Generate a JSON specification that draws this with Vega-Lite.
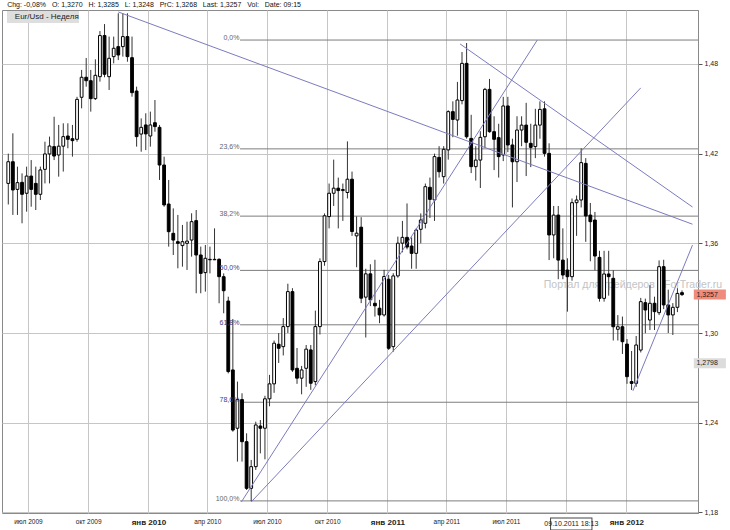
{
  "$schema": "https://vega.github.io/schema/vega-lite/v6.json",
  "width": 696,
  "height": 503,
  "autosize": {"type": "none"},
  "padding": {"left": 2, "top": 10, "right": 32, "bottom": 17},
  "background": "white",
  "config": {
    "view": {"stroke": "#8a8a8a", "strokeWidth": 1},
    "font": "Liberation Sans"
  },
  "datasets": {
    "candles": [
      {"d":"2009-06-01","o":1.4001,"h":1.4200,"l":1.3860,"c":1.4146},
      {"d":"2009-06-08","o":1.4146,"h":1.4336,"l":1.3790,"c":1.3957},
      {"d":"2009-06-15","o":1.3961,"h":1.4113,"l":1.3790,"c":1.4006},
      {"d":"2009-06-22","o":1.4008,"h":1.4068,"l":1.3734,"c":1.3928},
      {"d":"2009-06-29","o":1.3935,"h":1.4113,"l":1.3812,"c":1.4050},
      {"d":"2009-07-06","o":1.4050,"h":1.4157,"l":1.3845,"c":1.3961},
      {"d":"2009-07-13","o":1.4001,"h":1.4113,"l":1.3823,"c":1.3928},
      {"d":"2009-07-20","o":1.3928,"h":1.4113,"l":1.3890,"c":1.4091},
      {"d":"2009-07-27","o":1.4095,"h":1.4280,"l":1.4001,"c":1.4198},
      {"d":"2009-08-03","o":1.4198,"h":1.4314,"l":1.4001,"c":1.4251},
      {"d":"2009-08-10","o":1.4247,"h":1.4447,"l":1.4157,"c":1.4184},
      {"d":"2009-08-17","o":1.4191,"h":1.4392,"l":1.4046,"c":1.4250},
      {"d":"2009-08-24","o":1.4250,"h":1.4403,"l":1.4080,"c":1.4314},
      {"d":"2009-08-31","o":1.4318,"h":1.4403,"l":1.4236,"c":1.4296},
      {"d":"2009-09-07","o":1.4300,"h":1.4392,"l":1.4180,"c":1.4287},
      {"d":"2009-09-14","o":1.4296,"h":1.4580,"l":1.4280,"c":1.4563},
      {"d":"2009-09-21","o":1.4577,"h":1.4760,"l":1.4503,"c":1.4711},
      {"d":"2009-09-28","o":1.4711,"h":1.4840,"l":1.4648,"c":1.4688},
      {"d":"2009-10-05","o":1.4688,"h":1.4760,"l":1.4481,"c":1.4568},
      {"d":"2009-10-12","o":1.4568,"h":1.4831,"l":1.4559,"c":1.4724},
      {"d":"2009-10-19","o":1.4715,"h":1.5020,"l":1.4682,"c":1.4990},
      {"d":"2009-10-26","o":1.4990,"h":1.5067,"l":1.4711,"c":1.4731},
      {"d":"2009-11-02","o":1.4715,"h":1.4983,"l":1.4626,"c":1.4838},
      {"d":"2009-11-09","o":1.4849,"h":1.4983,"l":1.4804,"c":1.4905},
      {"d":"2009-11-16","o":1.4916,"h":1.5139,"l":1.4826,"c":1.4860},
      {"d":"2009-11-23","o":1.4916,"h":1.5139,"l":1.4849,"c":1.4983},
      {"d":"2009-11-30","o":1.4983,"h":1.5139,"l":1.4815,"c":1.4849},
      {"d":"2009-12-07","o":1.4842,"h":1.4983,"l":1.4581,"c":1.4608},
      {"d":"2009-12-14","o":1.4619,"h":1.4648,"l":1.4247,"c":1.4314},
      {"d":"2009-12-21","o":1.4331,"h":1.4436,"l":1.4213,"c":1.4376},
      {"d":"2009-12-28","o":1.4392,"h":1.4470,"l":1.4224,"c":1.4332},
      {"d":"2010-01-04","o":1.4318,"h":1.4481,"l":1.4247,"c":1.4392},
      {"d":"2010-01-11","o":1.4407,"h":1.4559,"l":1.4347,"c":1.4381},
      {"d":"2010-01-18","o":1.4376,"h":1.4392,"l":1.4024,"c":1.4124},
      {"d":"2010-01-25","o":1.4124,"h":1.4180,"l":1.3845,"c":1.3857},
      {"d":"2010-02-01","o":1.3863,"h":1.4024,"l":1.3578,"c":1.3678},
      {"d":"2010-02-08","o":1.3667,"h":1.3834,"l":1.3522,"c":1.3622},
      {"d":"2010-02-15","o":1.3611,"h":1.3790,"l":1.3433,"c":1.3600},
      {"d":"2010-02-22","o":1.3585,"h":1.3723,"l":1.3444,"c":1.3611},
      {"d":"2010-03-01","o":1.3600,"h":1.3745,"l":1.3422,"c":1.3615},
      {"d":"2010-03-08","o":1.3622,"h":1.3801,"l":1.3511,"c":1.3745},
      {"d":"2010-03-15","o":1.3752,"h":1.3823,"l":1.3266,"c":1.3522},
      {"d":"2010-03-22","o":1.3522,"h":1.3578,"l":1.3266,"c":1.3399},
      {"d":"2010-03-29","o":1.3404,"h":1.3589,"l":1.3277,"c":1.3500},
      {"d":"2010-04-05","o":1.3493,"h":1.3578,"l":1.3399,"c":1.3490},
      {"d":"2010-04-12","o":1.3490,"h":1.3700,"l":1.3488,"c":1.3493},
      {"d":"2010-04-19","o":1.3493,"h":1.3500,"l":1.3199,"c":1.3377},
      {"d":"2010-04-26","o":1.3377,"h":1.3399,"l":1.3132,"c":1.3283},
      {"d":"2010-05-03","o":1.3214,"h":1.3243,"l":1.2730,"c":1.2742},
      {"d":"2010-05-10","o":1.2753,"h":1.3094,"l":1.2340,"c":1.2351},
      {"d":"2010-05-17","o":1.2363,"h":1.2675,"l":1.2140,"c":1.2555},
      {"d":"2010-05-24","o":1.2555,"h":1.2597,"l":1.2140,"c":1.2273},
      {"d":"2010-05-31","o":1.2273,"h":1.2329,"l":1.1950,"c":1.1961},
      {"d":"2010-06-07","o":1.1961,"h":1.2151,"l":1.1876,"c":1.2106},
      {"d":"2010-06-14","o":1.2106,"h":1.2407,"l":1.2084,"c":1.2385},
      {"d":"2010-06-21","o":1.2378,"h":1.2418,"l":1.2195,"c":1.2363},
      {"d":"2010-06-28","o":1.2363,"h":1.2580,"l":1.2155,"c":1.2560},
      {"d":"2010-07-05","o":1.2560,"h":1.2720,"l":1.2510,"c":1.2660},
      {"d":"2010-07-12","o":1.2660,"h":1.2950,"l":1.2600,"c":1.2932},
      {"d":"2010-07-19","o":1.2925,"h":1.3000,"l":1.2800,"c":1.2898},
      {"d":"2010-07-26","o":1.2909,"h":1.3100,"l":1.2850,"c":1.3043},
      {"d":"2010-08-02","o":1.3043,"h":1.3330,"l":1.3000,"c":1.3277},
      {"d":"2010-08-09","o":1.3277,"h":1.3300,"l":1.2740,"c":1.2753},
      {"d":"2010-08-16","o":1.2764,"h":1.2900,"l":1.2660,"c":1.2698},
      {"d":"2010-08-23","o":1.2698,"h":1.2780,"l":1.2590,"c":1.2753},
      {"d":"2010-08-30","o":1.2764,"h":1.2920,"l":1.2640,"c":1.2892},
      {"d":"2010-09-06","o":1.2887,"h":1.2920,"l":1.2620,"c":1.2664},
      {"d":"2010-09-13","o":1.2675,"h":1.3150,"l":1.2650,"c":1.3043},
      {"d":"2010-09-20","o":1.3043,"h":1.3500,"l":1.2990,"c":1.3478},
      {"d":"2010-09-27","o":1.3478,"h":1.3800,"l":1.3450,"c":1.3784},
      {"d":"2010-10-04","o":1.3779,"h":1.4000,"l":1.3700,"c":1.3935},
      {"d":"2010-10-11","o":1.3935,"h":1.4160,"l":1.3850,"c":1.3969},
      {"d":"2010-10-18","o":1.3969,"h":1.4040,"l":1.3700,"c":1.3953},
      {"d":"2010-10-25","o":1.3953,"h":1.4000,"l":1.3750,"c":1.3960},
      {"d":"2010-11-01","o":1.3940,"h":1.4282,"l":1.3900,"c":1.4029},
      {"d":"2010-11-08","o":1.4029,"h":1.4080,"l":1.3650,"c":1.3679},
      {"d":"2010-11-15","o":1.3650,"h":1.3780,"l":1.3440,"c":1.3668},
      {"d":"2010-11-22","o":1.3708,"h":1.3775,"l":1.3200,"c":1.3233},
      {"d":"2010-11-29","o":1.3240,"h":1.3430,"l":1.2970,"c":1.3396},
      {"d":"2010-12-06","o":1.3396,"h":1.3460,"l":1.3180,"c":1.3222},
      {"d":"2010-12-13","o":1.3199,"h":1.3490,"l":1.3110,"c":1.3182},
      {"d":"2010-12-20","o":1.3166,"h":1.3222,"l":1.3066,"c":1.3121},
      {"d":"2010-12-27","o":1.3121,"h":1.3423,"l":1.3110,"c":1.3378},
      {"d":"2011-01-03","o":1.3360,"h":1.3389,"l":1.2887,"c":1.2898},
      {"d":"2011-01-10","o":1.2909,"h":1.3400,"l":1.2875,"c":1.3382},
      {"d":"2011-01-17","o":1.3382,"h":1.3645,"l":1.3370,"c":1.3601},
      {"d":"2011-01-24","o":1.3601,"h":1.3750,"l":1.3540,"c":1.3640},
      {"d":"2011-01-31","o":1.3640,"h":1.3867,"l":1.3560,"c":1.3575},
      {"d":"2011-02-07","o":1.3582,"h":1.3640,"l":1.3430,"c":1.3533},
      {"d":"2011-02-14","o":1.3533,"h":1.3700,"l":1.3430,"c":1.3689},
      {"d":"2011-02-21","o":1.3694,"h":1.3800,"l":1.3600,"c":1.3756},
      {"d":"2011-02-28","o":1.3734,"h":1.4000,"l":1.3700,"c":1.3979},
      {"d":"2011-03-07","o":1.3975,"h":1.4040,"l":1.3770,"c":1.3894},
      {"d":"2011-03-14","o":1.3890,"h":1.4200,"l":1.3750,"c":1.4180},
      {"d":"2011-03-21","o":1.4175,"h":1.4250,"l":1.4040,"c":1.4079},
      {"d":"2011-03-28","o":1.4046,"h":1.4250,"l":1.4000,"c":1.4229},
      {"d":"2011-04-04","o":1.4225,"h":1.4490,"l":1.4160,"c":1.4481},
      {"d":"2011-04-11","o":1.4481,"h":1.4550,"l":1.4310,"c":1.4429},
      {"d":"2011-04-18","o":1.4425,"h":1.4680,"l":1.4320,"c":1.4559},
      {"d":"2011-04-25","o":1.4555,"h":1.4880,"l":1.4530,"c":1.4804},
      {"d":"2011-05-02","o":1.4804,"h":1.4940,"l":1.4300,"c":1.4313},
      {"d":"2011-05-09","o":1.4302,"h":1.4460,"l":1.4070,"c":1.4113},
      {"d":"2011-05-16","o":1.4113,"h":1.4250,"l":1.4020,"c":1.4157},
      {"d":"2011-05-23","o":1.4157,"h":1.4350,"l":1.3970,"c":1.4309},
      {"d":"2011-05-30","o":1.4313,"h":1.4640,"l":1.4240,"c":1.4630},
      {"d":"2011-06-06","o":1.4630,"h":1.4700,"l":1.4340,"c":1.4347},
      {"d":"2011-06-13","o":1.4347,"h":1.4450,"l":1.4090,"c":1.4296},
      {"d":"2011-06-20","o":1.4307,"h":1.4400,"l":1.4040,"c":1.4180},
      {"d":"2011-06-27","o":1.4191,"h":1.4580,"l":1.4150,"c":1.4519},
      {"d":"2011-07-04","o":1.4519,"h":1.4580,"l":1.4210,"c":1.4258},
      {"d":"2011-07-11","o":1.4258,"h":1.4300,"l":1.3840,"c":1.4146},
      {"d":"2011-07-18","o":1.4146,"h":1.4450,"l":1.4010,"c":1.4358},
      {"d":"2011-07-25","o":1.4358,"h":1.4450,"l":1.4250,"c":1.4391},
      {"d":"2011-08-01","o":1.4391,"h":1.4540,"l":1.4050,"c":1.4276},
      {"d":"2011-08-08","o":1.4269,"h":1.4400,"l":1.4110,"c":1.4242},
      {"d":"2011-08-15","o":1.4247,"h":1.4500,"l":1.4170,"c":1.4391},
      {"d":"2011-08-22","o":1.4391,"h":1.4550,"l":1.4300,"c":1.4496},
      {"d":"2011-08-29","o":1.4500,"h":1.4550,"l":1.4180,"c":1.4202},
      {"d":"2011-09-05","o":1.4202,"h":1.4269,"l":1.3488,"c":1.3656},
      {"d":"2011-09-12","o":1.3656,"h":1.3850,"l":1.3500,"c":1.3789},
      {"d":"2011-09-19","o":1.3789,"h":1.3850,"l":1.3360,"c":1.3488},
      {"d":"2011-09-26","o":1.3488,"h":1.3700,"l":1.3360,"c":1.3388},
      {"d":"2011-10-03","o":1.3421,"h":1.3500,"l":1.3143,"c":1.3377},
      {"d":"2011-10-10","o":1.3377,"h":1.3900,"l":1.3350,"c":1.3872},
      {"d":"2011-10-17","o":1.3872,"h":1.3920,"l":1.3650,"c":1.3890},
      {"d":"2011-10-24","o":1.3890,"h":1.4235,"l":1.3840,"c":1.4140},
      {"d":"2011-10-31","o":1.4135,"h":1.4170,"l":1.3610,"c":1.3783},
      {"d":"2011-11-07","o":1.3789,"h":1.3870,"l":1.3480,"c":1.3745},
      {"d":"2011-11-14","o":1.3756,"h":1.3810,"l":1.3420,"c":1.3515},
      {"d":"2011-11-21","o":1.3506,"h":1.3550,"l":1.3210,"c":1.3232},
      {"d":"2011-11-28","o":1.3232,"h":1.3550,"l":1.3210,"c":1.3395},
      {"d":"2011-12-05","o":1.3395,"h":1.3550,"l":1.3250,"c":1.3377},
      {"d":"2011-12-12","o":1.3366,"h":1.3420,"l":1.2950,"c":1.3042},
      {"d":"2011-12-19","o":1.3025,"h":1.3120,"l":1.2950,"c":1.3042},
      {"d":"2011-12-26","o":1.3042,"h":1.3110,"l":1.2860,"c":1.2942},
      {"d":"2012-01-02","o":1.2926,"h":1.2960,"l":1.2660,"c":1.2708},
      {"d":"2012-01-09","o":1.2675,"h":1.2880,"l":1.2619,"c":1.2663},
      {"d":"2012-01-16","o":1.2663,"h":1.2980,"l":1.2640,"c":1.2920},
      {"d":"2012-01-23","o":1.2886,"h":1.3235,"l":1.2870,"c":1.3210},
      {"d":"2012-01-30","o":1.3203,"h":1.3230,"l":1.2998,"c":1.3154},
      {"d":"2012-02-06","o":1.3087,"h":1.3320,"l":1.3020,"c":1.3199},
      {"d":"2012-02-13","o":1.3199,"h":1.3243,"l":1.3020,"c":1.3143},
      {"d":"2012-02-20","o":1.3136,"h":1.3486,"l":1.3120,"c":1.3444},
      {"d":"2012-02-27","o":1.3444,"h":1.3490,"l":1.3160,"c":1.3188},
      {"d":"2012-03-05","o":1.3188,"h":1.3290,"l":1.3000,"c":1.3121},
      {"d":"2012-03-12","o":1.3121,"h":1.3200,"l":1.2987,"c":1.3172},
      {"d":"2012-03-19","o":1.3172,"h":1.3300,"l":1.3140,"c":1.3265},
      {"d":"2012-03-26","o":1.3270,"h":1.3285,"l":1.3248,"c":1.3257}
    ],
    "fib": [
      {"pct":"0,0%","level":1.4960},
      {"pct":"23,6%","level":1.4232},
      {"pct":"38,2%","level":1.3782},
      {"pct":"50,0%","level":1.3419},
      {"pct":"61,8%","level":1.3055},
      {"pct":"78,6%","level":1.2537},
      {"pct":"100,0%","level":1.1877}
    ],
    "trend": [
      {"d1":"2009-11-16","p1":1.5148,"d2":"2012-04-11","p2":1.3728},
      {"d1":"2011-04-22","p1":1.4934,"d2":"2012-04-11","p2":1.3843},
      {"d1":"2010-05-23","p1":1.1870,"d2":"2011-08-18","p2":1.4960},
      {"d1":"2010-06-07","p1":1.1870,"d2":"2012-01-23","p2":1.4640},
      {"d1":"2012-01-11","p1":1.2613,"d2":"2012-04-11","p2":1.3588}
    ],
    "tags": [
      {"p":1.3257,"label":"1,3257","kind":"last"},
      {"p":1.2798,"label":"1,2798","kind":"prev"}
    ]
  },
  "layer": [
    {
      "data": {"name": "candles"},
      "mark": {"type": "rule", "opacity": 0},
      "encoding": {
        "x": {
          "field": "d", "type": "temporal", "title": null,
          "scale": {"type": "utc", "domain": [{"year": 2009, "month": 5, "date": 30, "hours": 1, "utc": true}, {"year": 2012, "month": 4, "date": 11, "hours": 19, "utc": true}]},
          "axis": {
            "orient": "bottom",
            "values": [
              {"year": 2009, "month": 7, "date": 1, "utc": true},
              {"year": 2009, "month": 10, "date": 1, "utc": true},
              {"year": 2010, "month": 1, "date": 1, "utc": true},
              {"year": 2010, "month": 4, "date": 1, "utc": true},
              {"year": 2010, "month": 7, "date": 1, "utc": true},
              {"year": 2010, "month": 10, "date": 1, "utc": true},
              {"year": 2011, "month": 1, "date": 1, "utc": true},
              {"year": 2011, "month": 4, "date": 1, "utc": true},
              {"year": 2011, "month": 7, "date": 1, "utc": true},
              {"year": 2011, "month": 10, "date": 1, "utc": true},
              {"year": 2012, "month": 1, "date": 1, "utc": true}
            ],
            "labelExpr": "(utcyear(datum.value) == 2011 && utcmonth(datum.value) == 9) ? '' : (['янв','фев','мар','апр','май','июн','июл','авг','сен','окт','ноя','дек'][utcmonth(datum.value)] + ' ' + utcyear(datum.value))",
            "grid": true, "gridColor": "#c6c6c6",
            "ticks": false, "domain": false,
            "labelPadding": 5, "labelColor": "#222222",
            "labelFontSize": {"condition": {"test": "utcmonth(datum.value) == 0", "value": 8}, "value": 6.5},
            "labelFontWeight": {"condition": {"test": "utcmonth(datum.value) == 0", "value": "bold"}, "value": "normal"},
            "labelOverlap": false, "labelFlush": false
          }
        },
        "y": {
          "field": "l", "type": "quantitative", "title": null,
          "scale": {"domain": [1.1796, 1.5161], "zero": false, "nice": false},
          "axis": {
            "orient": "right",
            "values": [1.18, 1.24, 1.3, 1.36, 1.42, 1.48],
            "labelExpr": "replace(format(datum.value, '.2f'), '.', ',')",
            "grid": true, "gridColor": "#c6c6c6",
            "domain": true, "domainColor": "#8a8a8a",
            "ticks": true, "tickColor": "#555555", "tickSize": 4,
            "labelPadding": 2, "labelFontSize": 7, "labelColor": "#222222"
          }
        },
        "y2": {"field": "h"}
      }
    },
    {
      "data": {"name": "fib"},
      "mark": {"type": "rule", "color": "#7d7d7d", "strokeWidth": 1, "clip": true},
      "encoding": {
        "x": {"datum": {"year": 2010, "month": 5, "date": 21, "utc": true}, "type": "temporal", "title": null},
        "x2": {"datum": {"year": 2012, "month": 6, "date": 1, "utc": true}},
        "y": {"field": "level", "type": "quantitative", "title": null}
      }
    },
    {
      "data": {"values": [{}]},
      "mark": {"type": "text", "text": "Портал для трейдеров - ForTrader.ru", "fontSize": 10.5, "color": "#c4c4c4", "align": "center", "baseline": "middle", "clip": false},
      "encoding": {
        "x": {"datum": {"year": 2012, "month": 1, "date": 11, "utc": true}, "type": "temporal", "title": null},
        "y": {"datum": 1.3322, "type": "quantitative", "title": null}
      }
    },
    {
      "data": {"name": "candles"},
      "mark": {"type": "rule", "color": "#333333", "strokeWidth": 1, "clip": true},
      "encoding": {
        "x": {"field": "d", "type": "temporal", "title": null},
        "y": {"field": "l", "type": "quantitative", "title": null},
        "y2": {"field": "h"}
      }
    },
    {
      "data": {"name": "candles"},
      "mark": {"type": "bar", "size": 2.8, "stroke": "#000000", "strokeWidth": 1, "clip": true},
      "encoding": {
        "x": {"field": "d", "type": "temporal", "title": null},
        "y": {"field": "o", "type": "quantitative", "title": null},
        "y2": {"field": "c"},
        "fill": {"condition": {"test": "datum.c < datum.o", "value": "#000000"}, "value": "#ffffff"}
      }
    },
    {
      "data": {"name": "fib"},
      "mark": {"type": "text", "align": "right", "baseline": "middle", "dy": -2, "fontSize": 7, "clip": false},
      "encoding": {
        "x": {"datum": {"year": 2010, "month": 5, "date": 20, "utc": true}, "type": "temporal", "title": null},
        "y": {"field": "level", "type": "quantitative", "title": null},
        "text": {"field": "pct"},
        "color": {"condition": {"test": "datum.level > 1.2 && datum.level < 1.36", "value": "#3c3c88"}, "value": "#666666"}
      }
    },
    {
      "data": {"name": "trend"},
      "mark": {"type": "rule", "color": "#7b7bbf", "strokeWidth": 1, "clip": true},
      "encoding": {
        "x": {"field": "d1", "type": "temporal", "title": null},
        "x2": {"field": "d2"},
        "y": {"field": "p1", "type": "quantitative", "title": null},
        "y2": {"field": "p2"}
      }
    },
    {
      "data": {"name": "tags"},
      "mark": {"type": "rule", "strokeWidth": 10, "strokeCap": "butt", "clip": false},
      "encoding": {
        "x": {"datum": {"year": 2012, "month": 4, "date": 13, "utc": true}, "type": "temporal", "title": null},
        "x2": {"datum": {"year": 2012, "month": 6, "date": 1, "utc": true}},
        "y": {"field": "p", "type": "quantitative", "title": null},
        "color": {"condition": {"test": "datum.kind == 'last'", "value": "#f08c7c"}, "value": "#dcdcdc"}
      }
    },
    {
      "data": {"name": "tags"},
      "mark": {"type": "text", "align": "left", "baseline": "middle", "fontSize": 7, "color": "#222222", "clip": false},
      "encoding": {
        "x": {"datum": {"year": 2012, "month": 4, "date": 17, "utc": true}, "type": "temporal", "title": null},
        "y": {"field": "p", "type": "quantitative", "title": null},
        "text": {"field": "label"}
      }
    },
    {
      "data": {"values": [{}]},
      "mark": {"type": "text", "text": "Chg: -0,08%\u00a0\u00a0 O: 1,3270\u00a0\u00a0 H: 1,3285\u00a0\u00a0 L: 1,3248\u00a0\u00a0 PrC: 1,3268\u00a0\u00a0 Last: 1,3257\u00a0\u00a0 Vol:\u00a0\u00a0 Date: 09:15", "align": "left", "baseline": "middle", "fontSize": 7, "color": "#111111", "clip": false},
      "encoding": {
        "x": {"datum": {"year": 2009, "month": 5, "date": 30, "hours": 6, "utc": true}, "type": "temporal", "title": null},
        "y": {"datum": 1.5195, "type": "quantitative", "title": null}
      }
    },
    {
      "data": {"values": [{}]},
      "mark": {"type": "rule", "strokeWidth": 12, "strokeCap": "butt", "color": "#dedede", "clip": false},
      "encoding": {
        "x": {"datum": {"year": 2009, "month": 5, "date": 30, "hours": 2, "utc": true}, "type": "temporal", "title": null},
        "x2": {"datum": {"year": 2009, "month": 9, "date": 17, "utc": true}},
        "y": {"datum": 1.5114, "type": "quantitative", "title": null}
      }
    },
    {
      "data": {"values": [{}]},
      "mark": {"type": "text", "text": "Eur/Usd - Неделя", "align": "left", "baseline": "middle", "fontSize": 8, "color": "#222222", "clip": false},
      "encoding": {
        "x": {"datum": {"year": 2009, "month": 6, "date": 11, "utc": true}, "type": "temporal", "title": null},
        "y": {"datum": 1.5114, "type": "quantitative", "title": null}
      }
    },
    {
      "data": {"values": [{}]},
      "mark": {"type": "rule", "strokeWidth": 13, "strokeCap": "butt", "color": "#444444", "clip": false},
      "encoding": {
        "x": {"datum": {"year": 2011, "month": 9, "date": 6, "hours": 12, "utc": true}, "type": "temporal", "title": null},
        "x2": {"datum": {"year": 2011, "month": 11, "date": 10, "hours": 5, "utc": true}},
        "y": {"datum": 1.1723, "type": "quantitative", "title": null}
      }
    },
    {
      "data": {"values": [{}]},
      "mark": {"type": "rule", "strokeWidth": 11, "strokeCap": "butt", "color": "#ffffff", "clip": false},
      "encoding": {
        "x": {"datum": {"year": 2011, "month": 9, "date": 8, "utc": true}, "type": "temporal", "title": null},
        "x2": {"datum": {"year": 2011, "month": 11, "date": 8, "hours": 17, "utc": true}},
        "y": {"datum": 1.1723, "type": "quantitative", "title": null}
      }
    },
    {
      "data": {"values": [{}]},
      "mark": {"type": "text", "text": "09.10.2011 18:13", "align": "center", "baseline": "middle", "fontSize": 7, "color": "#222222", "clip": false},
      "encoding": {
        "x": {"datum": {"year": 2011, "month": 10, "date": 9, "utc": true}, "type": "temporal", "title": null},
        "y": {"datum": 1.1723, "type": "quantitative", "title": null}
      }
    }
  ]
}
